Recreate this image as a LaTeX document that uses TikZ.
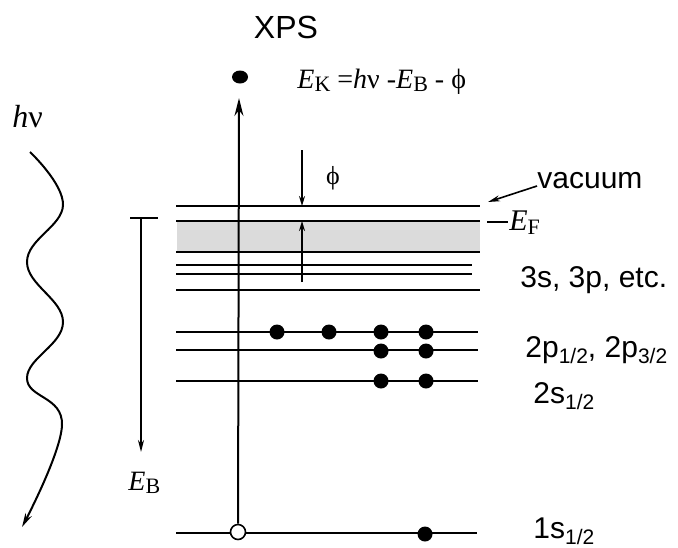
\documentclass[tikz,border=0pt]{standalone}
\usepackage{fontspec}
\setmainfont{Liberation Serif}
\setsansfont{Liberation Sans}
\usepackage{tikz}
\usetikzlibrary{arrows.meta, shapes.geometric}

\newcommand{\orbsub}[1]{\raisebox{-0.4ex}{\fontsize{10.5}{10.5}\selectfont #1}}
\newcommand{\lowsub}[1]{\raisebox{-0.3ex}{\fontsize{11}{11}\selectfont #1}}

\begin{document}
\begin{tikzpicture}[x=0.5pt, y=-0.5pt, >=Stealth,
    level/.style={line width=1.1pt},
    electron/.style={circle, fill=black, inner sep=0pt, minimum size=7.5pt},
    orbital/.style={font=\sffamily\fontsize{15}{18}\selectfont, anchor=base west, inner sep=0pt},
    energy/.style={font=\fontsize{14}{16}\selectfont, inner sep=0pt}]
    \useasboundingbox (0,0) rectangle (678,547);

    % Shaded valence band
    \fill[gray!28] (177,221) rectangle (480,252);

    % Energy levels
    \foreach \y/\xe in {206/480, 221/480, 252/480, 265/472, 274/472, 290/480, 332/478, 350/478, 381/478, 533/477}
        \draw[level] (176,\y) -- (\xe,\y);

    % Bound electrons
    \foreach \x in {277, 329, 381, 426}
        \node[electron] (p\x) at (\x,332) {};
    \foreach \x in {381, 426} {
        \node[electron] (q\x) at (\x,351) {};
        \node[electron] (s\x) at (\x,381) {};
    }
    \node[electron] (core) at (425,534) {};

    % Photoemission
    \node[circle, draw=black, thick, fill=white, inner sep=0pt, minimum size=7.5pt] (hole) at (238,532) {};
    \node[ellipse, fill=black, inner sep=0pt, minimum width=8pt, minimum height=6.5pt] (free) at (240,77) {};
    \coordinate (tip) at (239,98);
    \draw[line width=1pt, -{Stealth[length=9pt, width=4.5pt]}] (hole) -- (tip);
    \node[font=\sffamily\fontsize{16}{19}\selectfont] (xps) at (286,27) {XPS};
    \node[energy, font=\fontsize{14}{16}\selectfont, anchor=base west] (ek) at (297,88)
        {\textit{E}\lowsub{K} =\textit{h}ν -\textit{E}\lowsub{B} - ϕ};

    % Work function
    \coordinate (phitop) at (302,150);
    \coordinate (phivac) at (302,206);
    \coordinate (phibot) at (302,282);
    \coordinate (phifer) at (302,221);
    \draw[thick, -{Stealth[length=5pt, width=3pt]}] (phitop) -- (phivac);
    \draw[thick, -{Stealth[length=5pt, width=3pt]}] (phibot) -- (phifer);
    \node[energy, font=\fontsize{13}{15}\selectfont] (phi) at (333,178) {ϕ};

    % Incoming photon
    \draw[line width=1pt, -{Stealth[length=7pt, width=3.5pt]}] plot[smooth, tension=0.7] coordinates
        {(30,152) (63,205) (27,262) (63,322) (27,378) (62,425) (22,527)};
    \node[energy, font=\fontsize{16}{18}\selectfont, anchor=base west] (hv) at (12,127) {\textit{h}ν};

    % Binding energy
    \coordinate (ebl) at (130,218);
    \coordinate (ebr) at (158,218);
    \coordinate (ebtop) at (141,218);
    \coordinate (ebend) at (141,452);
    \draw[level] (ebl) -- (ebr);
    \draw[line width=0.9pt, -{Stealth[length=6pt, width=3pt]}] (ebtop) -- (ebend);
    \node[energy, anchor=base west] (eb) at (128,490) {\textit{E}\lowsub{B}};

    % Labels on the right
    \node[orbital, anchor=base west] (vac) at (537,188) {vacuum};
    \coordinate (vacarr) at (537,186);
    \coordinate (vactip) at (488,202);
    \draw[thick, -{Stealth[length=6pt, width=3pt]}] (vacarr) -- (vactip);
    \coordinate (efl) at (487,222);
    \coordinate (efr) at (508,222);
    \draw[level] (efl) -- (efr);
    \node[energy, font=\fontsize{15}{18}\selectfont, anchor=base west] (ef) at (509,230) {\textit{E}\lowsub{F}};
    \node[orbital] (l3) at (520,287) {3s, 3p, etc.};
    \node[orbital] (l2p) at (525,357) {2p\orbsub{1/2}, 2p\orbsub{3/2}};
    \node[orbital] (l2s) at (533,403) {2s\orbsub{1/2}};
    \node[orbital] (l1s) at (533,538) {1s\orbsub{1/2}};
\end{tikzpicture}
\end{document}
